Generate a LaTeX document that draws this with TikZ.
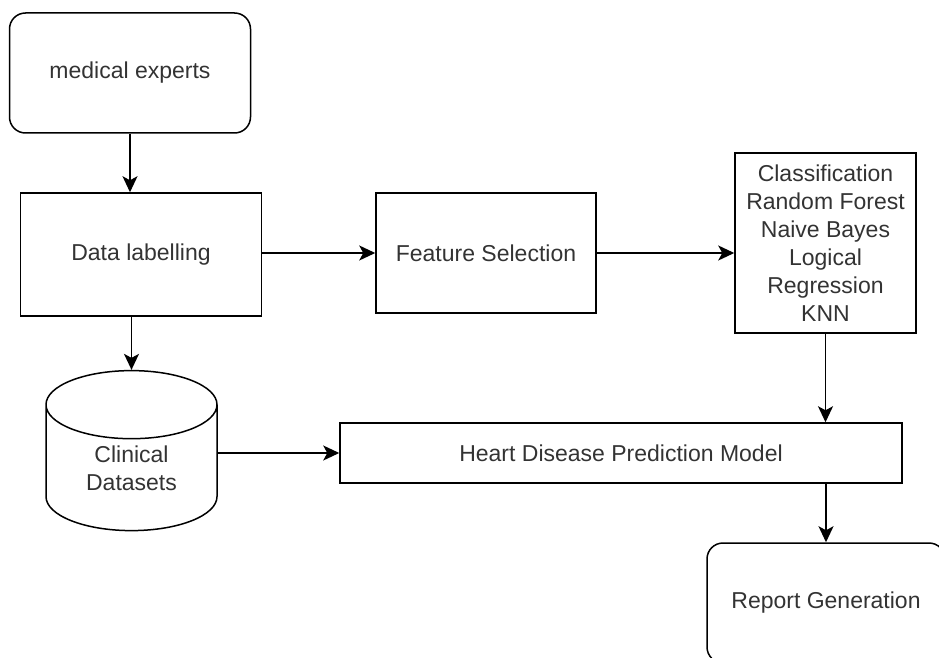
\documentclass[tikz,border=0pt]{standalone}
\usepackage{fontspec}
\setmainfont{Liberation Sans}
\usetikzlibrary{arrows.meta,shapes.geometric}

\begin{document}
\begin{tikzpicture}[x=1pt, y=-1pt, >={Stealth[length=16pt,width=15pt,inset=4pt]}]
\tikzset{flowbox/.style={draw, line width=1.5pt, font=\fontsize{23}{28}\selectfont, text=black!80, align=center, inner sep=0},
roundbox/.style={flowbox, rounded corners=16pt},
flowarrow/.style={->, line width=1.5pt}}

\useasboundingbox (0,0) rectangle (939,658);
\clip (0,0) rectangle (939,658);

\node (experts) [roundbox, minimum width=241pt, minimum height=120pt] at (130,73) {medical experts};
\node (labelling) [flowbox, minimum width=241pt, minimum height=123pt] at (141,254.5) {Data labelling};
\node (features) [flowbox, minimum width=220pt, minimum height=120pt] at (486,253) {Feature Selection};
\node (classif) [flowbox, minimum width=181pt, minimum height=180pt] at (825.5,243) {Classification\\Random Forest\\Naive Bayes\\Logical\\Regression\\KNN};
\node (datasets) [flowbox, cylinder, shape border rotate=90, aspect=0.75, minimum width=171pt, minimum height=160pt] at (131.5,468) {Clinical\\Datasets};
\node (model) [flowbox, minimum width=562pt, minimum height=60pt] at (621,453) {Heart Disease Prediction Model};
\node (report) [roundbox, minimum width=238pt, minimum height=120pt] at (826,603) {Report Generation};

%% Edges
\draw [flowarrow] (experts.south) -- (experts.south |- labelling.north);
\draw [flowarrow] (labelling.south -| datasets.north) -- (datasets.north);
\draw [flowarrow] (labelling.east |- features.west) -- (features.west);
\draw [flowarrow] (features.east) -- (features.east -| classif.west);
\draw [flowarrow] (classif.south) -- (classif.south |- model.north);
\draw [flowarrow] (datasets.east |- model.west) -- (model.west);
\draw [flowarrow] (model.south -| report.north) -- (report.north);

\end{tikzpicture}
\end{document}
